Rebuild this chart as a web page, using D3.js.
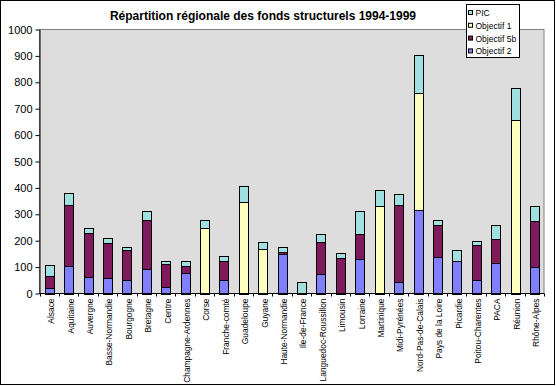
<!DOCTYPE html>
<html>
<head>
<meta charset="utf-8">
<script src="https://cdn.jsdelivr.net/npm/d3@7"></script>
<style>
  body { margin: 0; background: #fff; }
  text { font-family: "Liberation Sans", Arial, sans-serif; }
</style>
</head>
<body>
<div class="canvas"></div>
<script>
// data
const regions = ["Alsace", "Aquitaine", "Auvergne", "Basse-Normandie", "Bourgogne", "Bretagne", "Centre",
  "Champagne-Ardennes", "Corse", "Franche-comté", "Guadeloupe", "Guyane", "Haute-Normandie", "Ile-de-France",
  "Languedoc-Roussillon", "Limousin", "Lorraine", "Martinique", "Midi-Pyrénées", "Nord-Pas-de-Calais",
  "Pays de la Loire", "Picardie", "Poitou-Charentes", "PACA", "Réunion", "Rhône-Alpes"]
const objectif2 = [19, 106, 61, 57, 50, 91, 23, 76, 0, 50, 0, 0, 148, 0, 72, 0, 129, 0, 42, 318, 137, 122, 53, 114, 0, 99]
const objectif5b = [49, 228, 170, 133, 113, 186, 87, 30, 0, 75, 0, 0, 11, 0, 122, 133, 95, 0, 292, 0, 121, 0, 129, 91, 0, 174]
const objectif1 = [0, 0, 0, 0, 0, 0, 0, 0, 250, 0, 345, 167, 0, 0, 0, 0, 0, 330, 0, 440, 0, 0, 0, 0, 659, 0]
const pic = [39, 45, 16, 22, 15, 34, 15, 16, 27, 16, 61, 27, 19, 42, 33, 19, 87, 61, 42, 144, 19, 42, 15, 53, 118, 57]
const yTicks = [0, 100, 200, 300, 400, 500, 600, 700, 800, 900, 1000]

// series, bottom to top
const series = [
  {name: "Objectif 2", values: objectif2, color: "#8080ff"},
  {name: "Objectif 5b", values: objectif5b, color: "#7f1a5c"},
  {name: "Objectif 1", values: objectif1, color: "#ffffc0"},
  {name: "PIC", values: pic, color: "#a0e0e0"}
]

// settings
const svgWidth = 556
const svgHeight = 386
const plot = {left: 39.5, right: 544, top: 29.5, bottom: 293.5}

const svg = d3.select(".canvas")
    .append("svg")
    .attr("width", svgWidth)
    .attr("height", svgHeight)

// outer frame
svg.append("rect")
    .attr("x", 0.5).attr("y", 0.5)
    .attr("width", svgWidth - 2).attr("height", svgHeight - 2)
    .attr("fill", "#fff").attr("stroke", "#000")

const x = d3.scaleBand()
    .domain(regions)
    .range([plot.left, plot.right])
    .paddingInner(0.55)
    .paddingOuter(0.275)

const y = d3.scaleLinear()
    .domain([0, 1000])
    .range([plot.bottom, plot.top])

// plot area
svg.append("rect")
    .attr("x", plot.left).attr("y", plot.top)
    .attr("width", plot.right - plot.left).attr("height", plot.bottom - plot.top)
    .attr("fill", "#dddddd").attr("stroke", "#808080")

// stacked bars
const rows = regions.map((r, i) => {
  const row = {region: r}
  series.forEach(s => row[s.name] = s.values[i])
  return row
})
const stacked = d3.stack().keys(series.map(s => s.name))(rows)

stacked.forEach((layer, k) => {
  svg.append("g")
      .selectAll("rect")
      .data(layer.filter(d => d[1] - d[0] > 0))
      .enter()
      .append("rect")
        .attr("x", d => Math.round(x(d.data.region)) + 0.5)
        .attr("y", d => Math.round(y(d[1])) + 0.5)
        .attr("width", Math.round(x.bandwidth()))
        .attr("height", d => Math.round(y(d[0])) - Math.round(y(d[1])))
        .attr("fill", series[k].color)
        .attr("stroke", "#000")
        .attr("stroke-width", 1)
})

// y axis
const yAxis = svg.append("g")
    .attr("transform", `translate(${plot.left},0)`)
    .call(d3.axisLeft(y).tickValues(yTicks).tickFormat(d3.format("d"))
      .tickSize(4).tickPadding(3).tickSizeOuter(0))
yAxis.select(".domain").attr("stroke", "#000")
yAxis.selectAll("text")
    .attr("font-size", "11px")
    .attr("fill", "#000")

// x axis, ticks between categories
const xAxis = svg.append("g")
    .attr("transform", `translate(0,${plot.bottom})`)
xAxis.append("line")
    .attr("x1", plot.left).attr("x2", plot.right)
    .attr("stroke", "#000")
const step = x.step()
xAxis.selectAll(".tick")
    .data(d3.range(regions.length + 1))
    .enter()
    .append("line")
      .attr("x1", i => Math.round(plot.left + i * step) + 0.5)
      .attr("x2", i => Math.round(plot.left + i * step) + 0.5)
      .attr("y1", 0).attr("y2", 3)
      .attr("stroke", "#000")
xAxis.selectAll(".lbl")
    .data(regions)
    .enter()
    .append("text")
      .attr("transform", d => `translate(${x(d) + x.bandwidth() / 2 + 5},${5}) rotate(-90)`)
      .attr("text-anchor", "end")
      .attr("font-size", "8.4px")
      .text(d => d)

// title
svg.append("text")
    .attr("x", 263)
    .attr("y", 20)
    .attr("text-anchor", "middle")
    .attr("font-size", "12px")
    .attr("font-weight", "bold")
    .text("Répartition régionale des fonds structurels 1994-1999")

// legend
const legend = svg.append("g").attr("transform", "translate(466.5,4.5)")
legend.append("rect")
    .attr("width", 53).attr("height", 53)
    .attr("fill", "#fff").attr("stroke", "#000")
const legendItems = series.slice().reverse()
legendItems.forEach((s, i) => {
  const g = legend.append("g").attr("transform", `translate(0,${9 + i * 12.8})`)
  g.append("rect")
      .attr("x", 2).attr("y", -3)
      .attr("width", 4).attr("height", 4)
      .attr("fill", s.color).attr("stroke", "#000")
  g.append("text")
      .attr("x", 9).attr("y", 2.5)
      .attr("font-size", "8.5px")
      .text(s.name)
})
</script>
</body>
</html>
